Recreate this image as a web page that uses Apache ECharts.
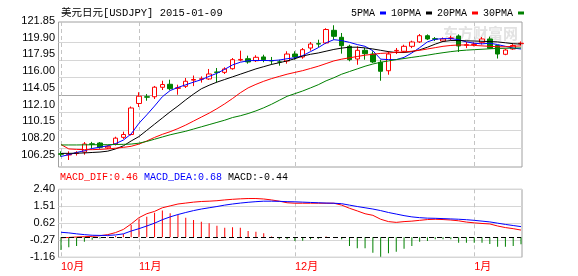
<!DOCTYPE html>
<html><head><meta charset="utf-8">
<script src="https://cdn.jsdelivr.net/npm/echarts@6/dist/echarts.min.js"></script>
<style>html,body{margin:0;padding:0;background:#fff}#c{width:578px;height:276px}</style>
</head><body><div id="c"></div>
<script>
// ---- data ----
const dates = ['2014-10-20','2014-10-21','2014-10-22','2014-10-23','2014-10-24','2014-10-27','2014-10-28','2014-10-29','2014-10-30','2014-10-31',
'2014-11-03','2014-11-04','2014-11-05','2014-11-06','2014-11-07','2014-11-10','2014-11-11','2014-11-12','2014-11-13','2014-11-14',
'2014-11-17','2014-11-18','2014-11-19','2014-11-20','2014-11-21','2014-11-24','2014-11-25','2014-11-26','2014-11-27','2014-11-28',
'2014-12-01','2014-12-02','2014-12-03','2014-12-04','2014-12-05','2014-12-08','2014-12-09','2014-12-10','2014-12-11','2014-12-12',
'2014-12-15','2014-12-16','2014-12-17','2014-12-18','2014-12-19','2014-12-22','2014-12-23','2014-12-24','2014-12-25','2014-12-26',
'2014-12-29','2014-12-30','2014-12-31','2015-01-01','2015-01-02','2015-01-05','2015-01-06','2015-01-07','2015-01-08','2015-01-09'];
const openData  = [106.95,106.82,106.98,107.15,108.08,108.17,107.62,108.06,108.81,109.13, 112.64,113.40,113.40,114.47,114.81,114.35,114.58,115.28,115.38,115.41, 116.20,116.16,116.57,117.55,117.70,117.47,117.90,117.50,117.33,117.44, 118.23,117.89,118.91,119.40,119.48,120.91,120.12,119.10,117.67,118.65, 118.23,117.29,116.34,118.58,118.54,119.10,119.60,120.30,119.96,119.70, 120.00,120.27,119.22,119.30,119.55,119.93,119.20,118.20,118.80,119.40];
const closeData = [106.90,106.88,107.05,108.06,108.02,107.69,107.80,108.72,109.13,112.13, 113.46,113.35,114.48,114.78,114.31,114.42,115.15,115.35,115.43,115.97, 116.15,116.54,117.59,117.62,117.33,117.86,117.59,117.45,117.33,118.23, 117.90,118.72,119.36,119.36,121.00,120.23,119.17,117.59,118.65,118.27, 117.33,116.28,118.23,118.64,119.10,119.59,120.30,119.93,119.90,119.93, 120.05,119.14,119.28,119.36,119.93,118.88,118.23,118.68,119.20,119.45];
const lowData   = [106.62,106.25,106.75,106.85,107.60,107.53,107.50,107.89,108.62,109.02, 112.24,112.95,113.15,114.16,114.13,113.63,114.39,114.60,115.00,115.30, 115.03,115.97,116.46,117.41,117.14,117.33,117.30,117.02,116.91,117.14, 117.59,117.70,118.61,119.00,119.36,119.85,118.27,117.41,117.02,117.59, 117.22,115.21,115.89,118.23,118.35,118.90,119.48,119.82,119.70,119.60, 119.80,118.46,118.90,119.10,119.30,118.80,117.72,118.10,118.70,119.20];
const highData  = [107.23,107.23,107.25,108.28,108.30,108.28,107.92,108.88,109.45,112.30, 113.91,113.70,114.62,115.21,115.33,114.76,115.52,115.80,115.70,116.54, 116.65,116.73,117.78,118.61,118.04,118.09,118.15,117.90,117.59,118.54, 118.54,118.91,119.59,119.85,121.15,121.48,120.61,119.28,119.10,118.91, 118.54,117.59,118.54,118.91,119.28,119.74,120.49,120.45,120.15,120.10, 120.30,120.45,119.60,119.55,120.15,120.20,119.25,118.85,119.35,119.65];
const ma5  = [106.65,106.85,107.10,107.30,107.55,107.70,107.85,108.10,108.50,109.20, 110.40,111.35,112.35,113.40,114.10,114.45,114.75,115.05,115.33,115.70, 116.05,116.50,117.00,117.30,117.47,117.50,117.50,117.48,117.55,117.70, 117.80,118.05,118.50,118.95,119.50,119.85,119.75,119.55,119.30,119.10, 118.60,117.65,117.60,117.60,117.85,118.35,118.95,119.60,119.90,119.97, 119.97,119.85,119.60,119.45,119.38,119.45,119.30,119.10,118.90,118.80];
const ma10 = [107.00,107.00,107.02,107.05,107.10,107.15,107.25,107.50,107.85,108.40, 108.90,109.60,110.30,111.00,111.70,112.35,113.05,113.70,114.30,114.70, 115.05,115.35,115.65,115.95,116.25,116.55,116.80,117.05,117.25,117.45, 117.70,118.00,118.20,118.35,118.55,118.75,118.90,119.00,119.00,118.92, 118.80,118.65,118.50,118.40,118.40,118.50,118.70,119.00,119.35,119.65, 119.75,119.75,119.72,119.70,119.67,119.64,119.60,119.50,119.40,119.35];
const ma20 = [108.00,107.50,107.45,107.42,107.42,107.45,107.50,107.58,107.68,107.80, 108.05,108.40,108.80,109.15,109.45,109.80,110.20,110.65,111.10,111.55, 112.05,112.60,113.20,113.85,114.40,114.80,115.15,115.45,115.70,115.95, 116.15,116.35,116.60,116.85,117.15,117.45,117.65,117.80,117.95,118.10, 118.20,118.30,118.35,118.42,118.46,118.55,118.65,118.80,118.95,119.10, 119.20,119.25,119.25,119.20,119.15,119.10,119.05,119.05,119.10,119.15];
const ma30 = [107.95,107.95,107.95,107.96,107.97,107.98,107.98,108.00,108.02,108.05, 108.15,108.35,108.60,108.85,109.10,109.30,109.50,109.75,110.00,110.25, 110.50,110.75,111.05,111.25,111.50,111.80,112.15,112.55,113.00,113.45, 113.75,114.05,114.40,114.76,115.20,115.55,115.95,116.25,116.55,116.85, 117.10,117.30,117.45,117.60,117.72,117.85,117.97,118.10,118.25,118.38, 118.50,118.60,118.67,118.72,118.77,118.82,118.86,118.88,118.90,118.92];
const macdHist = [-0.81,-0.64,-0.55,-0.28,-0.15,-0.08,0.03,0.08,0.21,0.78, 1.15,1.31,1.57,1.70,1.53,1.42,1.25,1.10,0.99,0.89, 0.74,0.61,0.64,0.61,0.40,0.36,0.25,0.05,-0.13,-0.13, -0.24,-0.22,-0.13,-0.10,0.05,0.02,-0.13,-0.55,-0.70,-0.70, -0.98,-1.24,-1.02,-0.92,-0.73,-0.55,-0.28,-0.24,-0.13,-0.12, -0.12,-0.34,-0.34,-0.34,-0.34,-0.43,-0.60,-0.60,-0.55,-0.44];
const difData = [-0.03,-0.01,0.02,0.04,0.06,0.10,0.17,0.30,0.50,0.85, 1.25,1.50,1.65,1.88,2.00,2.12,2.18,2.24,2.28,2.30, 2.33,2.38,2.42,2.45,2.47,2.47,2.44,2.38,2.30,2.20, 2.17,2.17,2.17,2.17,2.17,2.17,2.05,1.85,1.68,1.50, 1.40,1.15,1.00,0.95,1.00,1.03,1.08,1.13,1.15,1.13, 1.10,1.05,0.97,0.92,0.88,0.85,0.72,0.62,0.55,0.46];
const deaData = [0.32,0.28,0.22,0.17,0.13,0.12,0.12,0.15,0.22,0.40, 0.55,0.72,0.90,1.12,1.30,1.45,1.58,1.70,1.80,1.88, 1.96,2.05,2.12,2.18,2.23,2.27,2.30,2.30,2.29,2.27, 2.26,2.24,2.22,2.20,2.18,2.17,2.14,2.05,1.96,1.88, 1.80,1.70,1.58,1.48,1.38,1.30,1.25,1.22,1.21,1.19, 1.17,1.15,1.12,1.08,1.03,0.98,0.90,0.82,0.75,0.68];
const priceTicks = [106.25,108.20,110.15,112.10,114.05,116.00,117.95,119.90,121.85];
const macdTicks = [-1.16,-0.27,0.62,1.51,2.40];
const maNames = ['5PMA','10PMA','20PMA','30PMA'];

// ---- build ----
const MONO = '"Liberation Mono","DejaVu Sans Mono","Noto Sans CJK SC",monospace';
const SANS = '"Liberation Sans","Noto Sans CJK SC",sans-serif';
const kData = dates.map((d,i)=>[openData[i],closeData[i],lowData[i],highData[i]]);
const isMonthStart = i => i === 0 || dates[i].slice(5,7) !== dates[i-1].slice(5,7);
const pStep = +(priceTicks[1]-priceTicks[0]).toFixed(2);
const mStep = +(macdTicks[1]-macdTicks[0]).toFixed(2);
const last = a => a[a.length-1].toFixed(2);
const dashed = {show:true, interval:(i)=>isMonthStart(i), lineStyle:{color:'#c4c4c4', type:[4,3], width:1}};
const G = '#008000', R = '#ff0000';
const maColors = ['#0000ff','#000000','#ff0000','#008000'];
const maData = [ma5, ma10, ma20, ma30];

const chart = echarts.init(document.getElementById('c'), null, {renderer:'canvas'});
chart.setOption({
  animation:false,
  backgroundColor:'#fff',
  title:[
    {text:'美元日元[USDJPY] 2015-01-09', left:61, top:8, padding:0,
     textStyle:{fontFamily:MONO, fontSize:10.5, fontWeight:'normal', color:'#000'}},
    {text:`{r|MACD_DIF:${last(difData)}} {b|MACD_DEA:${last(deaData)}} {k|MACD:${last(macdHist)}}`, left:60, top:172, padding:0,
     textStyle:{fontFamily:MONO, fontSize:10, fontWeight:'normal', color:'#000',
       rich:{r:{color:R,fontFamily:MONO,fontSize:10},b:{color:'#0000ff',fontFamily:MONO,fontSize:10},k:{color:'#000',fontFamily:MONO,fontSize:10}}}}
  ],
  legend:{data:maNames, left:351, top:8, padding:0, itemGap:5, itemWidth:6, itemHeight:3, align:'right', icon:'rect', selectedMode:false,
    textStyle:{fontFamily:MONO, fontSize:10, color:'#000'}},
  graphic:[{type:'text', left:443, top:26, z:1, silent:true,
    style:{text:'东方财富网', fill:'#e2e2e2', font:'bold 15px "Noto Sans CJK SC"'}}],
  grid:[
    {left:61, top:22, width:460, height:145},
    {left:58.5, top:22, width:463.5, height:145, show:true, borderColor:'#a0a0a0', borderWidth:1, backgroundColor:'transparent'},
    {left:58.5, top:24.7, width:463.5, height:140.8},
    {left:58.5, top:20.7, width:463.5, height:134.3},
    {left:61, top:189.3, width:460, height:68},
    {left:58.5, top:189.3, width:463.5, height:68, show:true, borderColor:'#a0a0a0', borderWidth:1, backgroundColor:'transparent'}
  ],
  xAxis:[
    {gridIndex:0, type:'category', data:dates, boundaryGap:false, axisLine:{show:false}, axisTick:{show:false}, axisLabel:{show:false}, splitLine:dashed},
    {gridIndex:1, type:'value', min:0, max:1, show:false},
    {gridIndex:2, type:'value', min:0, max:1, show:false},
    {gridIndex:3, type:'value', min:0, max:1, show:false},
    {gridIndex:4, type:'category', data:dates, boundaryGap:false, axisLine:{show:false}, axisTick:{show:false},
      axisLabel:{show:true, interval:(i)=>isMonthStart(i), formatter:v=>(+v.slice(5,7))+'月', color:R, align:'left', margin:4, fontFamily:SANS, fontSize:11},
      splitLine:dashed},
    {gridIndex:5, type:'value', min:0, max:1, show:false}
  ],
  yAxis:[
    {gridIndex:0, type:'value', min:105.458, max:priceTicks[priceTicks.length-1], show:false},
    {gridIndex:1, type:'value', min:0, max:1, show:false},
    {gridIndex:2, type:'value', min:priceTicks[0], max:priceTicks[priceTicks.length-1], interval:pStep,
      axisLine:{show:false}, axisTick:{show:false}, axisLabel:{show:false},
      splitLine:{show:true, lineStyle:{width:1, color:['rgba(0,0,0,0)','#d6d6d6','#d6d6d6','#d6d6d6','#a6a6a6','#d6d6d6','#d6d6d6','#d6d6d6','rgba(0,0,0,0)']}}},
    {gridIndex:3, type:'value', min:priceTicks[0], max:priceTicks[priceTicks.length-1], interval:pStep,
      axisLine:{show:false}, axisTick:{show:false}, splitLine:{show:false},
      axisLabel:{show:true, margin:3.5, color:'#000', fontFamily:SANS, fontSize:11, formatter:v=>v.toFixed(2)}},
    {gridIndex:4, type:'value', min:-1.274, max:3.057, show:false},
    {gridIndex:5, type:'value', min:macdTicks[0], max:macdTicks[macdTicks.length-1], interval:mStep,
      axisLine:{show:false}, axisTick:{show:false},
      splitLine:{show:true, lineStyle:{color:'#d6d6d6', width:1}},
      axisLabel:{show:true, margin:3.5, color:'#000', fontFamily:SANS, fontSize:11, padding:[6,0,0,0], formatter:v=>v.toFixed(2)}}
  ],
  series:[
    {name:'K', type:'candlestick', xAxisIndex:0, yAxisIndex:0, data:kData, barWidth:5, clip:false, z:3,
      itemStyle:{color:'#ffffff', color0:G, borderColor:R, borderColor0:G, borderWidth:1}},
    ...maNames.map((n,k)=>({name:n, type:'line', xAxisIndex:0, yAxisIndex:0, data:maData[k], symbol:'none', z:4,
      lineStyle:{color:maColors[k], width:1}, itemStyle:{color:maColors[k]}})),
    {name:'MACD', type:'bar', xAxisIndex:4, yAxisIndex:4, data:macdHist, barWidth:1, z:3,
      itemStyle:{color:p=>p.value>=0?R:G},
      markLine:{silent:true, symbol:'none', label:{show:false}, lineStyle:{color:'#000', type:[5,3], width:1}, data:[{yAxis:0}]}},
    {name:'DIF', type:'line', xAxisIndex:4, yAxisIndex:4, data:difData, symbol:'none', z:4, lineStyle:{color:R, width:1}, itemStyle:{color:R}},
    {name:'DEA', type:'line', xAxisIndex:4, yAxisIndex:4, data:deaData, symbol:'none', z:4, lineStyle:{color:'#0000ff', width:1}, itemStyle:{color:'#0000ff'}}
  ]
});
</script></body></html>
